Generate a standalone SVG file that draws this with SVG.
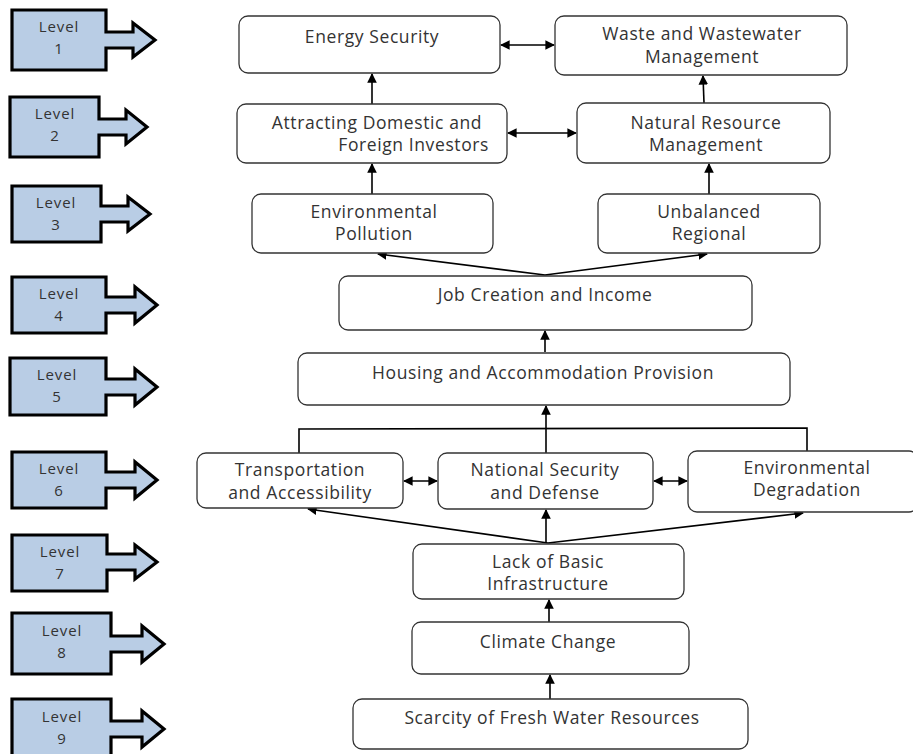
<svg xmlns="http://www.w3.org/2000/svg" width="913" height="754" viewBox="0 0 913 754">
<style>
.lv{fill:#B9CDE5;stroke:#000;stroke-width:3.2;stroke-linejoin:miter}
.lt{font-family:"Open Sans","Liberation Sans",sans-serif;font-size:15px;letter-spacing:0.9px;fill:#333;text-anchor:middle}
.nb{fill:#fff;stroke:#333;stroke-width:1.3}
.nt{font-family:"Open Sans","Liberation Sans",sans-serif;font-size:17.5px;letter-spacing:0.6px;fill:#333;text-anchor:middle}
.c{fill:none;stroke:#000;stroke-width:1.6}
.a{marker-end:url(#ah)}
.d{marker-start:url(#ah);marker-end:url(#ah)}
</style>
<defs>
<marker id="ah" viewBox="0 0 10 10" refX="9" refY="5" markerWidth="6" markerHeight="6" orient="auto-start-reverse" markerUnits="strokeWidth"><path d="M0,0 L10,5 L0,10 z" fill="#000"/></marker>
</defs>
<g id="levels">
<g id="level1"><path class="lv" d="M12,10 H106 V32 H133 V23 L155,40 L133,57 V48 H106 V70 H12 Z"/><text class="lt" x="59" y="32">Level</text><text class="lt" x="59" y="54">1</text></g>
<g id="level2"><path class="lv" d="M10,97 H99 V119 H126 V110 L147,127 L126,144 V135 H99 V157 H10 Z"/><text class="lt" x="55" y="119">Level</text><text class="lt" x="55" y="141">2</text></g>
<g id="level3"><path class="lv" d="M12,186 H101 V206 H128 V197 L150,214 L128,231 V222 H101 V242 H12 Z"/><text class="lt" x="56" y="208">Level</text><text class="lt" x="56" y="230">3</text></g>
<g id="level4"><path class="lv" d="M12,277 H106 V297 H135 V287 L157,305 L135,323 V313 H106 V333 H12 Z"/><text class="lt" x="59" y="299">Level</text><text class="lt" x="59" y="321">4</text></g>
<g id="level5"><path class="lv" d="M10,358 H106 V379 H135 V369 L157,387 L135,405 V395 H106 V415 H10 Z"/><text class="lt" x="57" y="380">Level</text><text class="lt" x="57" y="402">5</text></g>
<g id="level6"><path class="lv" d="M12,452 H106 V472 H135 V462 L157,480 L135,498 V488 H106 V508 H12 Z"/><text class="lt" x="59" y="474">Level</text><text class="lt" x="59" y="496">6</text></g>
<g id="level7"><path class="lv" d="M12,535 H107 V554 H135 V545 L157,562 L135,579 V570 H107 V591 H12 Z"/><text class="lt" x="60" y="557">Level</text><text class="lt" x="60" y="579">7</text></g>
<g id="level8"><path class="lv" d="M12,613 H111 V636 H142 V626 L164,644 L142,662 V652 H111 V674 H12 Z"/><text class="lt" x="62" y="636">Level</text><text class="lt" x="62" y="658">8</text></g>
<g id="level9"><path class="lv" d="M12,699 H111 V721 H142 V711 L164,729 L142,747 V737 H111 V760 H12 Z"/><text class="lt" x="62" y="722">Level</text><text class="lt" x="62" y="744">9</text></g>
</g>
<g id="connectors">
<line class="c d" x1="501" y1="45" x2="554" y2="45"/>
<line class="c d" x1="508" y1="133" x2="576" y2="133"/>
<line class="c a" x1="372" y1="104" x2="372" y2="74"/>
<line class="c a" x1="704" y1="103" x2="703" y2="76"/>
<line class="c a" x1="372" y1="194" x2="372" y2="164"/>
<line class="c a" x1="709" y1="194" x2="709" y2="164"/>
<line class="c a" x1="545" y1="275" x2="378" y2="254"/>
<line class="c a" x1="545" y1="275" x2="707" y2="254"/>
<line class="c a" x1="545" y1="352" x2="545" y2="331"/>
<line class="c a" x1="546" y1="453" x2="546" y2="406"/>
<polyline class="c" points="299,453 299,429 807,428 807,451"/>
<line class="c d" x1="404" y1="481" x2="437" y2="481"/>
<line class="c d" x1="654" y1="481" x2="687" y2="481"/>
<line class="c a" x1="548" y1="543" x2="308" y2="509"/>
<line class="c a" x1="548" y1="543" x2="803" y2="513"/>
<line class="c a" x1="546" y1="543" x2="546" y2="510"/>
<line class="c a" x1="549" y1="622" x2="549" y2="600"/>
<line class="c a" x1="550" y1="699" x2="550" y2="675"/>
</g>
<g id="energy"><rect class="nb" x="239" y="16" width="261" height="57" rx="9"/><text class="nt" x="372" y="43">Energy Security</text></g>
<g id="waste"><rect class="nb" x="555" y="16" width="292" height="59" rx="9"/><text class="nt" x="702" y="40">Waste and Wastewater</text><text class="nt" x="702" y="63">Management</text></g>
<g id="investors"><rect class="nb" x="237" y="104" width="270" height="59" rx="9"/><text class="nt" x="377" y="129">Attracting Domestic and</text><text class="nt" x="489" y="151" style="text-anchor:end">Foreign Investors</text></g>
<g id="natural"><rect class="nb" x="577" y="103" width="253" height="60" rx="9"/><text class="nt" x="706" y="129">Natural Resource</text><text class="nt" x="706" y="151">Management</text></g>
<g id="pollution"><rect class="nb" x="252" y="194" width="241" height="59" rx="9"/><text class="nt" x="374" y="218">Environmental</text><text class="nt" x="374" y="240">Pollution</text></g>
<g id="regional"><rect class="nb" x="598" y="194" width="222" height="59" rx="9"/><text class="nt" x="709" y="218">Unbalanced</text><text class="nt" x="709" y="240">Regional</text></g>
<g id="job"><rect class="nb" x="339" y="276" width="413" height="54" rx="9"/><text class="nt" x="545" y="301">Job Creation and Income</text></g>
<g id="housing"><rect class="nb" x="298" y="353" width="492" height="52" rx="9"/><text class="nt" x="543" y="379">Housing and Accommodation Provision</text></g>
<g id="transport"><rect class="nb" x="197" y="453" width="206" height="55" rx="9"/><text class="nt" x="300" y="476">Transportation</text><text class="nt" x="300" y="499">and Accessibility</text></g>
<g id="security"><rect class="nb" x="438" y="453" width="215" height="56" rx="9"/><text class="nt" x="545" y="476">National Security</text><text class="nt" x="545" y="499">and Defense</text></g>
<g id="degradation"><rect class="nb" x="688" y="451" width="230" height="61" rx="9"/><text class="nt" x="807" y="474">Environmental</text><text class="nt" x="807" y="496">Degradation</text></g>
<g id="infrastructure"><rect class="nb" x="413" y="544" width="271" height="55" rx="9"/><text class="nt" x="548" y="568">Lack of Basic</text><text class="nt" x="548" y="590">Infrastructure</text></g>
<g id="climate"><rect class="nb" x="412" y="622" width="277" height="52" rx="9"/><text class="nt" x="548" y="648">Climate Change</text></g>
<g id="scarcity"><rect class="nb" x="353" y="699" width="395" height="50" rx="9"/><text class="nt" x="552" y="724">Scarcity of Fresh Water Resources</text></g>
</svg>
